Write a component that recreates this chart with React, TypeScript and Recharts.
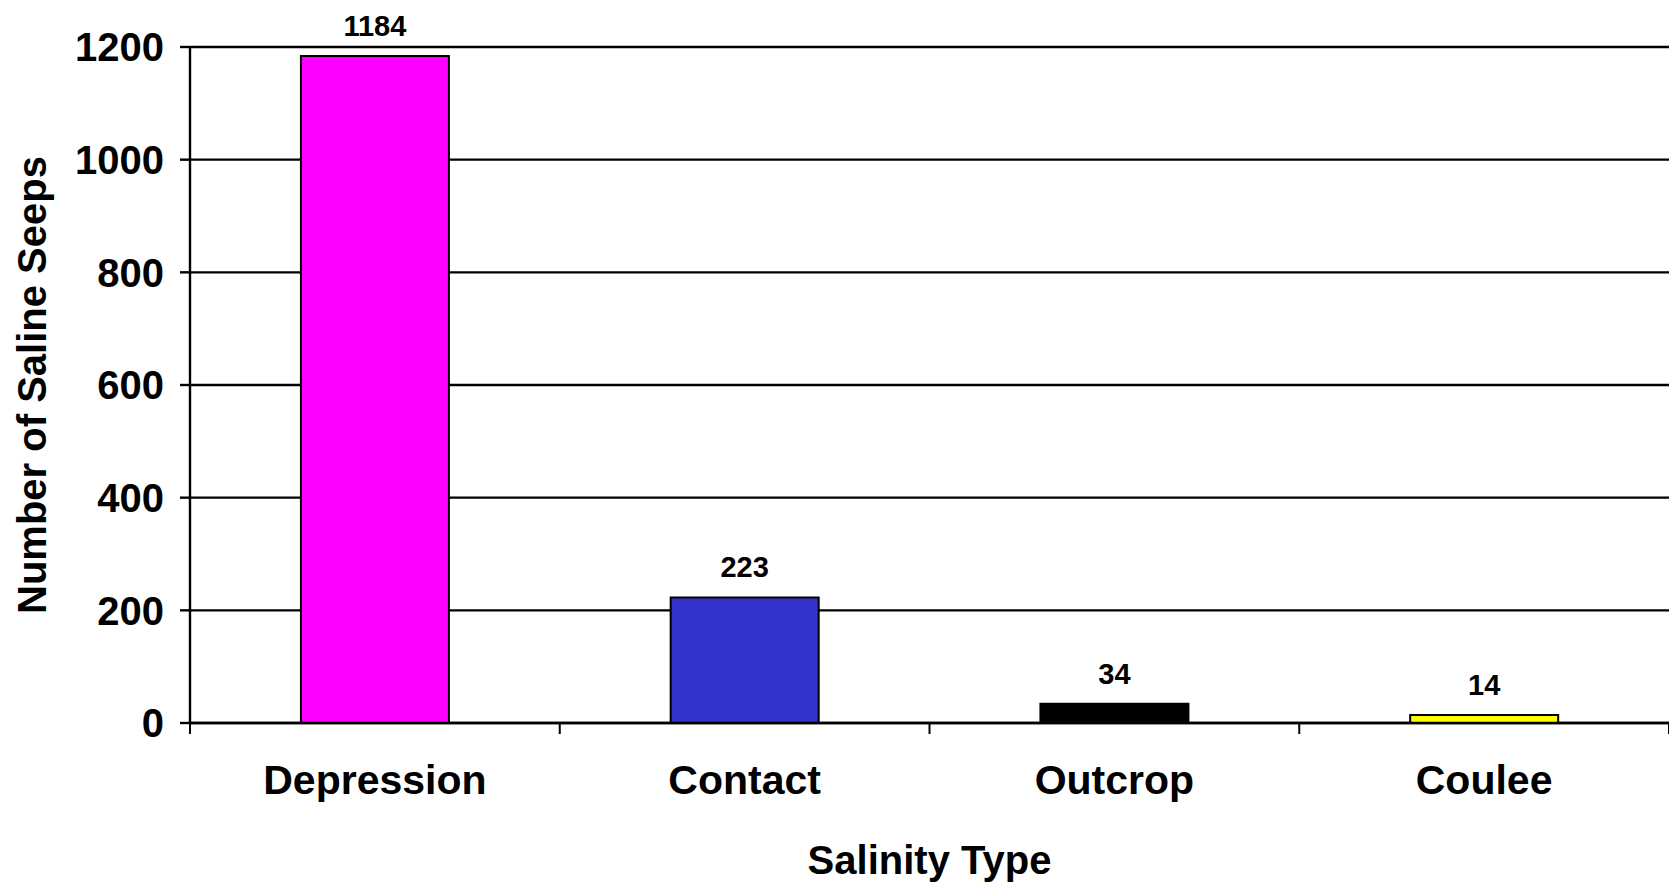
import React from 'react';
import { BarChart, Bar, Cell, XAxis, YAxis, CartesianGrid, LabelList } from 'recharts';

const categories = ['Depression', 'Contact', 'Outcrop', 'Coulee'];
const seepCounts = [1184, 223, 34, 14];
const barColors = ['#FF00FF', '#3333CC', '#000000', '#FFFF00'];
const yTicks = [0, 200, 400, 600, 800, 1000, 1200];

const data = categories.map((name, i) => ({ name, value: seepCounts[i] }));

const W = 1669;
const H = 888;
const Y_AXIS_W = 190;
const BAND = (W - Y_AXIS_W) / categories.length;
const FONT = 'Arial, "Liberation Sans", Helvetica, sans-serif';

const CategoryTick = (props: any) => {
  const { x, y, payload, index } = props;
  const half = BAND / 2;
  return (
    <g>
      <line x1={x - half} y1={y} x2={x - half} y2={y + 11} stroke="#000" strokeWidth={2} />
      {index === categories.length - 1 && (
        <line x1={x + half} y1={y} x2={x + half} y2={y + 11} stroke="#000" strokeWidth={2} />
      )}
      <text
        x={x}
        y={y + 57}
        textAnchor="middle"
        dominantBaseline="central"
        fontFamily={FONT}
        fontWeight="bold"
        fontSize={41}
        fill="#000"
      >
        {payload.value}
      </text>
    </g>
  );
};

export default function App() {
  return (
    <div style={{ position: 'absolute', left: 0, top: 0, width: W, height: H, background: '#fff' }}>
      <BarChart
        width={W}
        height={H}
        data={data}
        margin={{ top: 47, right: 0, bottom: 0, left: 0 }}
        barCategoryGap="30%"
      >
        <CartesianGrid vertical={false} stroke="#000" strokeWidth={2.4} />
        <XAxis
          dataKey="name"
          height={165}
          tickSize={0}
          tickMargin={0}
          axisLine={{ stroke: '#000', strokeWidth: 2.4 }}
          tickLine={false}
          tick={<CategoryTick />}
          interval={0}
          label={{
            value: 'Salinity Type',
            position: 'insideBottom',
            offset: 14,
            style: { fontFamily: FONT, fontWeight: 'bold', fontSize: 40, fill: '#000' },
          }}
        />
        <YAxis
          width={Y_AXIS_W}
          domain={[0, 1200]}
          ticks={yTicks}
          interval={0}
          tickSize={10}
          tickMargin={16}
          axisLine={{ stroke: '#000', strokeWidth: 2.4 }}
          tickLine={{ stroke: '#000', strokeWidth: 2.4 }}
          tick={{ fontFamily: FONT, fontWeight: 'bold', fontSize: 40, fill: '#000' }}
          label={{
            value: 'Number of Saline Seeps',
            angle: -90,
            position: 'insideLeft',
            offset: 32,
            style: { textAnchor: 'middle', fontFamily: FONT, fontWeight: 'bold', fontSize: 40, fill: '#000' },
          }}
        />
        <Bar dataKey="value" stroke="#000" strokeWidth={2} isAnimationActive={false}>
          {data.map((entry, i) => (
            <Cell key={entry.name} fill={barColors[i]} />
          ))}
          <LabelList
            dataKey="value"
            position="top"
            offset={20}
            style={{ fontFamily: FONT, fontWeight: 'bold', fontSize: 29, fill: '#000' }}
          />
        </Bar>
      </BarChart>
    </div>
  );
}
